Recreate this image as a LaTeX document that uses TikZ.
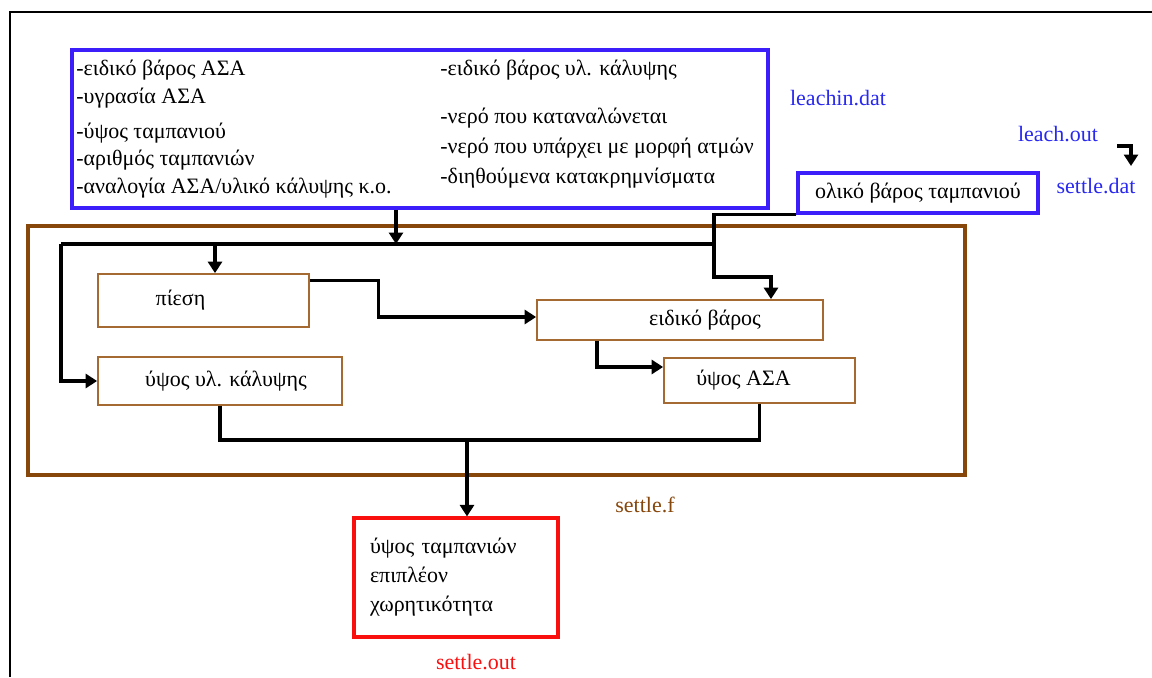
\documentclass[tikz,border=0pt]{standalone}
\usepackage{fontspec}
\setmainfont{Liberation Serif}
\usetikzlibrary{arrows.meta,positioning,calc}
\definecolor{fblue}{RGB}{60,30,250}
\definecolor{lblue}{RGB}{40,40,240}
\definecolor{fbrown}{RGB}{135,70,10}
\definecolor{mbrown}{RGB}{165,105,50}
\definecolor{fred}{RGB}{250,15,15}
\newcommand{\fs}{\fontsize{12.5}{16.5}\selectfont}
\tikzset{
  filebox/.style={draw=fblue,line width=1.8pt,inner sep=0pt},
  modbox/.style={draw=mbrown,line width=1pt,inner sep=0pt,font=\fs},
  modtxt/.style={inner sep=0pt,font=\fs},
  outbox/.style={draw=fred,line width=1.8pt,align=left,inner xsep=0.32cm,font=\fs},
  txt/.style={anchor=west,inner sep=0pt,font=\fs},
  fname/.style={inner sep=0pt,font=\fs},
  arr/.style={-{Triangle[length=2.3mm,width=2.8mm]},line width=1.8pt},
  ln/.style={line width=1.8pt},
}
\begin{document}
\begin{tikzpicture}
 \useasboundingbox (0,0) rectangle (23.04,-13.54);
 \draw[line width=1.3pt] (0.2,-13.54) |- (23.04,-0.24);
 % input files
 \node[filebox,minimum width=13.92cm,minimum height=3.16cm] (leachin) at (8.4,-2.58) {};
 \node[txt] (t1) at (1.52,-1.4) {-ειδικό βάρος ΑΣΑ};
 \node[txt] (t2) at (1.52,-1.96) {-υγρασία ΑΣΑ};
 \node[txt] (t3) at (1.52,-2.66) {-ύψος ταμπανιού};
 \node[txt] (t4) at (1.52,-3.2) {-αριθμός ταμπανιών};
 \node[txt] (t5) at (1.52,-3.76) {-αναλογία ΑΣΑ/υλικό κάλυψης κ.ο.};
 \node[txt] (t6) at (8.8,-1.4) {-ειδικό βάρος υλ. κάλυψης};
 \node[txt] (t7) at (8.8,-2.36) {-νερό που καταναλώνεται};
 \node[txt] (t8) at (8.8,-2.96) {-νερό που υπάρχει με μορφή ατμών};
 \node[txt] (t9) at (8.8,-3.56) {-διηθούμενα κατακρημνίσματα};
 \node[fname,text=lblue] (leachindat) at (16.76,-1.96) {leachin.dat};
 \node[fname,text=lblue] (leachout) at (21.16,-2.68) {leach.out};
 \node[fname,text=lblue] (settledat) at (21.92,-3.72) {settle.dat};
 \node[filebox,minimum width=4.8cm,minimum height=0.8cm,font=\fs] (oliko) at (18.36,-3.86) {ολικό βάρος ταμπανιού};
 % settle.f module
 \node[draw=fbrown,line width=1.8pt,minimum width=18.74cm,minimum height=4.98cm] (settlef) at (9.93,-7.01) {};
 \node[fname,text=fbrown] (settleflbl) at (12.9,-10.1) {settle.f};
 \node[modbox,minimum width=4.22cm,minimum height=1.06cm,label={[modtxt,xshift=-0.46cm]center:πίεση}] (piesi) at (4.07,-6.01) {};
 \node[modbox,minimum width=4.88cm,minimum height=0.96cm,label={[modtxt,xshift=0.12cm]center:ύψος υλ. κάλυψης}] (ypsosyl) at (4.4,-7.62) {};
 \node[modbox,minimum width=5.72cm,minimum height=0.8cm,label={[modtxt,xshift=0.5cm]center:ειδικό βάρος}] (eidiko) at (13.6,-6.4) {};
 \node[modbox,minimum width=3.82cm,minimum height=0.9cm,label={[modtxt,xshift=-0.32cm]center:ύψος ΑΣΑ}] (ypsosasa) at (15.19,-7.61) {};
 % output
 \node[outbox,text width=3.44cm,minimum width=4.08cm,minimum height=2.38cm] (out) at (9.12,-11.55) {ύψος ταμπανιών\\επιπλέον\\χωρητικότητα};
 \node[fname,text=fred] (settleout) at (9.52,-13.24) {settle.out};
 % connectors
 \coordinate (busL) at (1.22,-4.88);
 \coordinate (busR) at (14.28,-4.88);
 \coordinate (olk) at (14.28,-5.54);
 \coordinate (mrg) at (9.34,-8.8);
 \coordinate (loA) at (22.34,-2.92);
 \coordinate (loB) at (22.62,-3.32);
 \draw[arr] ([xshift=-0.48cm]leachin.south) -- ([xshift=-0.48cm]leachin.south |- busL);
 \draw[ln] (busL) -- (busR);
 \draw[arr] ([xshift=0.23cm]piesi.north |- busL) -- ([xshift=0.23cm]piesi.north);
 \draw[arr] (busL) |- (ypsosyl.west);
 \draw[arr] (oliko.south west) -| (olk) -| ([xshift=1.82cm]eidiko.north);
 \draw[arr] ([yshift=-0.14cm]piesi.north east) -- ++(1.38,0) |- ([yshift=0.06cm]eidiko.west);
 \draw[arr] ([xshift=-1.66cm]eidiko.south) |- ([yshift=0.27cm]ypsosasa.west);
 \draw[ln] (ypsosyl.south) |- (mrg) -| (ypsosasa.south);
 \draw[arr] (mrg) -- (mrg |- out.north);
 \draw[arr] (loA) -| (loB);
\end{tikzpicture}
\end{document}
